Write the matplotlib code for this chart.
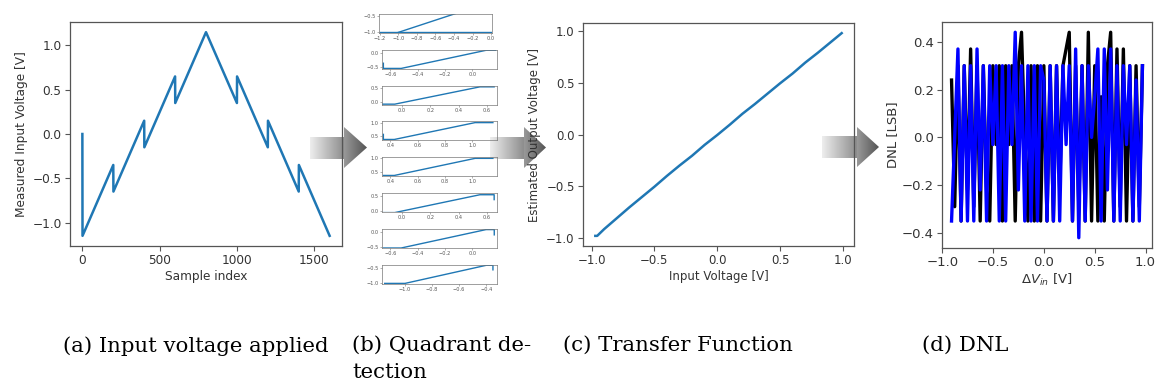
import numpy as np
import matplotlib
matplotlib.use("Agg")
import matplotlib.pyplot as plt
from matplotlib.patches import Polygon
from matplotlib.colors import LinearSegmentedColormap

W, H = 1161, 392

# ---------------- data ----------------
# (a) input voltage applied
sample_idx = [0, 1, 200, 201, 400, 401, 600, 601, 800, 1000, 1001, 1200, 1201, 1400, 1401, 1600]
input_v = [0.0, -1.15, -0.35, -0.65, 0.15, -0.15, 0.65, 0.35, 1.15, 0.35, 0.65,
           -0.15, 0.15, -0.65, -0.35, -1.15]

# (b) quadrant detection (8 small panels)
quad_x = [
    [[-1.2, 0.0], [-1.0, -0.3]],
    [[-0.65, -0.65, -0.52, 0.10, 0.17]],
    [[-0.15, -0.15, -0.05, 0.55, 0.65]],
    [[0.35, 0.35, 0.43, 1.02, 1.15]],
    [[0.35, 0.43, 1.02, 1.15]],
    [[-0.13, -0.05, 0.55, 0.65, 0.65]],
    [[-0.65, -0.52, 0.10, 0.16, 0.16]],
    [[-1.15, -1.0, -0.40, -0.35, -0.35]],
]
quad_y = [
    [[-1.0, -1.0], [-1.0, -0.36]],
    [[-0.37, -0.55, -0.55, 0.08, 0.08]],
    [[0.12, -0.07, -0.07, 0.55, 0.55]],
    [[0.56, 0.37, 0.37, 1.0, 1.0]],
    [[0.37, 0.37, 1.0, 1.0]],
    [[-0.07, -0.07, 0.55, 0.55, 0.38]],
    [[-0.55, -0.55, 0.08, 0.08, -0.10]],
    [[-1.0, -1.0, -0.40, -0.40, -0.55]],
]
quad_xlim = [(-1.21, 0.01), (-0.66, 0.18), (-0.14, 0.67), (0.34, 1.18),
             (0.34, 1.18), (-0.14, 0.67), (-0.66, 0.18), (-1.17, -0.32)]
quad_ylim = [(-1.02, -0.45), (-0.57, 0.09), (-0.10, 0.58), (0.35, 1.06),
             (0.35, 1.05), (-0.05, 0.61), (-0.55, 0.10), (-1.02, -0.39)]
quad_xticks = [[-1.2, -1.0, -0.8, -0.6, -0.4, -0.2, 0.0], [-0.6, -0.4, -0.2, 0.0],
               [0.0, 0.2, 0.4, 0.6], [0.4, 0.6, 0.8, 1.0], [0.4, 0.6, 0.8, 1.0],
               [0.0, 0.2, 0.4, 0.6], [-0.6, -0.4, -0.2, 0.0], [-1.0, -0.8, -0.6, -0.4]]
quad_yticks = [[-1.0, -0.5], [-0.5, 0.0], [0.0, 0.5], [0.5, 1.0], [0.5, 1.0],
               [0.0, 0.5], [-0.5, 0.0], [-1.0, -0.5]]

# (c) transfer function
tf_in = [-0.97, -0.955, -0.9, -0.8, -0.7, -0.6, -0.5, -0.4, -0.3, -0.2, -0.1, 0.0,
         0.1, 0.2, 0.3, 0.4, 0.5, 0.6, 0.7, 0.8, 0.9, 0.99]
tf_out = [-0.98, -0.98, -0.915, -0.81, -0.705, -0.605, -0.505, -0.40, -0.30, -0.205,
          -0.10, -0.005, 0.095, 0.20, 0.295, 0.395, 0.495, 0.59, 0.695, 0.79, 0.89, 0.98]

# (d) DNL
dnl_v = [-0.910, -0.879, -0.847, -0.816, -0.785, -0.753, -0.722, -0.691, -0.659, -0.628,
         -0.597, -0.565, -0.534, -0.503, -0.471, -0.440, -0.409, -0.377, -0.346, -0.315,
         -0.283, -0.252, -0.221, -0.189, -0.158, -0.127, -0.095, -0.064, -0.033, -0.001,
         0.030, 0.061, 0.093, 0.124, 0.155, 0.187, 0.218, 0.249, 0.281, 0.312,
         0.343, 0.375, 0.406, 0.437, 0.469, 0.500, 0.531, 0.563, 0.594, 0.625,
         0.657, 0.688, 0.719, 0.751, 0.782, 0.813, 0.845, 0.876, 0.907, 0.939, 0.970]
dnl_black = [0.24, -0.29, 0.30, -0.35, 0.30, -0.22, 0.37, -0.29, 0.30, -0.35,
             0.30, -0.22, -0.35, 0.30, -0.03, 0.30, -0.35, 0.30, -0.03, 0.30,
             -0.35, 0.30, 0.44, 0.00, -0.35, 0.30, -0.35, 0.30, -0.35, 0.30,
             -0.35, 0.30, -0.35, 0.30, -0.22, 0.30, 0.37, 0.44, -0.35, 0.30,
             -0.29, 0.30, -0.35, 0.44, -0.35, 0.30, -0.35, 0.17, -0.35, 0.30,
             0.44, -0.35, 0.37, -0.29, 0.37, -0.35, 0.30, -0.35, 0.30, -0.29, 0.30]
dnl_blue = [-0.35, 0.00, 0.37, -0.35, 0.30, -0.35, 0.30, -0.35, 0.37, -0.22,
            0.30, -0.35, 0.30, -0.03, 0.30, -0.35, 0.30, -0.35, 0.30, -0.03,
            0.44, -0.22, 0.30, -0.35, 0.30, -0.35, 0.30, -0.35, 0.30, 0.24,
            -0.35, 0.30, -0.35, 0.30, -0.35, 0.30, -0.03, 0.30, -0.35, 0.37,
            -0.42, 0.30, -0.35, 0.30, 0.00, 0.17, 0.37, -0.35, 0.37, -0.22,
            0.37, -0.35, 0.30, -0.35, 0.30, -0.03, 0.30, -0.35, 0.24, -0.35, 0.30]

captions = ["(a) Input voltage applied", "(b) Quadrant de-\ntection",
            "(c) Transfer Function", "(d) DNL"]

# ---------------- figure ----------------
fig = plt.figure(figsize=(W / 100, H / 100), dpi=100)

SPINE = "#555555"
TXT = "#333333"
LINE = "#1f77b4"


def px_axes(left, top, right, bottom, z=1):
    ax = fig.add_axes([left / W, 1 - bottom / H, (right - left) / W, (bottom - top) / H], zorder=z)
    ax.patch.set_alpha(0)
    return ax


def style(ax, fs):
    for s in ax.spines.values():
        s.set_color(SPINE)
        s.set_linewidth(0.9)
    ax.tick_params(colors=SPINE, labelcolor=TXT, labelsize=fs, length=3.5, width=0.8, pad=2.5)


# arrows (background layer)
bg = fig.add_axes([0, 0, 1, 1], zorder=0)
bg.set_xlim(0, W)
bg.set_ylim(H, 0)
bg.axis("off")

body_cmap = LinearSegmentedColormap.from_list("body", ["#eeeeee", "#8a8a8a"])
head_cmap = LinearSegmentedColormap.from_list("head", ["#999999", "#545454"])
grad = np.linspace(0, 1, 256).reshape(1, -1)


def arrow(bx0, bx1, by0, by1, hx0, hx1, hy0, hy1):
    body = Polygon([(bx0, by0), (bx1, by0), (bx1, by1), (bx0, by1)], closed=True,
                   facecolor="none", edgecolor="none")
    bg.add_patch(body)
    im = bg.imshow(grad, cmap=body_cmap, extent=(bx0, bx1, by1, by0), aspect="auto")
    im.set_clip_path(body)
    ym = (hy0 + hy1) / 2
    head = Polygon([(hx0, hy0), (hx1, ym), (hx0, hy1)], closed=True,
                   facecolor="none", edgecolor="none")
    bg.add_patch(head)
    im2 = bg.imshow(grad, cmap=head_cmap, extent=(hx0, hx1, hy1, hy0), aspect="auto")
    im2.set_clip_path(head)


arrow(310, 345, 137, 159, 344, 367, 127, 168)
arrow(490, 525, 137, 159, 524, 546, 127, 168)
arrow(822, 858, 136, 158, 857, 879, 127, 167)
bg.set_xlim(0, W)
bg.set_ylim(H, 0)

# (a)
axa = px_axes(70, 22, 342, 246)
axa.plot(sample_idx, input_v, color=LINE, lw=1.8)
axa.set_xticks([0, 500, 1000, 1500])
axa.set_yticks([-1.0, -0.5, 0.0, 0.5, 1.0])
axa.set_xlabel("Sample index", fontsize=8.7, color=TXT, labelpad=2)
axa.set_ylabel("Measured Input Voltage [V]", fontsize=8.7, color=TXT, labelpad=3)
style(axa, 8.7)

# (b)
tops = [14, 50, 86, 121, 157, 193, 229, 265]
for k in range(8):
    left = 379 if k == 0 else 382
    right = 492 if k == 0 else 497
    ax = px_axes(left, tops[k], right, tops[k] + 19)
    for xs, ys in zip(quad_x[k], quad_y[k]):
        ax.plot(xs, ys, color=LINE, lw=1.0)
    ax.set_xlim(*quad_xlim[k])
    ax.set_ylim(*quad_ylim[k])
    ax.set_xticks(quad_xticks[k])
    ax.set_yticks(quad_yticks[k])
    for s in ax.spines.values():
        s.set_color("#777777")
        s.set_linewidth(0.5)
    ax.tick_params(colors="#777777", labelcolor="#555555", labelsize=3.6,
                   length=1.2, width=0.4, pad=1)

# (c)
axc = px_axes(583, 23, 854, 246)
axc.plot(tf_in, tf_out, color=LINE, lw=1.8)
axc.set_xticks([-1.0, -0.5, 0.0, 0.5, 1.0])
axc.set_yticks([-1.0, -0.5, 0.0, 0.5, 1.0])
axc.set_xlabel("Input Voltage [V]", fontsize=8.5, color=TXT, labelpad=2)
axc.set_ylabel("Estimated Output Voltage [V]", fontsize=8.5, color=TXT, labelpad=4)
style(axc, 8.5)

# (d)
axd = px_axes(942, 22, 1152, 248)
axd.plot(dnl_v, dnl_black, color="black", lw=2.4)
axd.plot(dnl_v, dnl_blue, color="blue", lw=2.4)
axd.set_xticks([-1.0, -0.5, 0.0, 0.5, 1.0])
axd.set_yticks([-0.4, -0.2, 0.0, 0.2, 0.4])
axd.set_xlabel(r"$\Delta V_{in}$ [V]", fontsize=9.5, color=TXT, labelpad=2)
axd.set_ylabel("DNL [LSB]", fontsize=9.5, color=TXT, labelpad=2)
style(axd, 9.5)

# captions
cap_x = [63, 352, 563, 922]
for x, t in zip(cap_x, captions):
    fig.text(x / W, 1 - 336 / H, t, ha="left", va="top", fontsize=15.3,
             family="DejaVu Serif", color="black", linespacing=1.5)

fig.savefig("out.png", dpi=100)
